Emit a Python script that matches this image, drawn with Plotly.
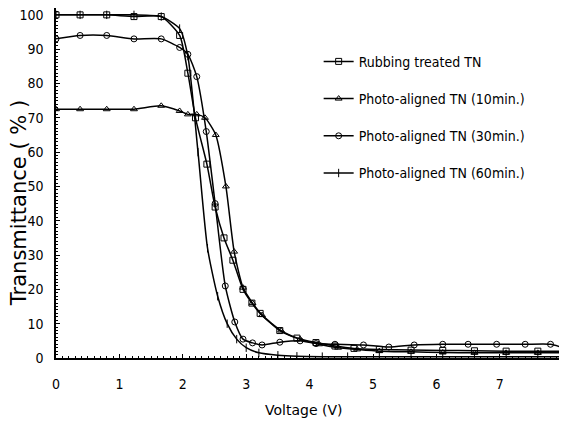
import plotly.graph_objects as go

# ---- data ----
rub_v = [0, 0.38, 0.8, 1.23, 1.66, 1.95, 2.08, 2.2, 2.38, 2.51, 2.65, 2.79, 2.95, 3.09, 3.22, 3.53, 3.8, 4.1, 4.4, 4.7, 5.1, 5.6, 6.1, 6.6, 7.1, 7.6, 8.0]
rub_t = [100, 100, 100, 99.5, 99.5, 94, 83, 70, 56.5, 44, 35, 28.5, 20, 16, 13, 8, 5.8, 4.5, 3.5, 2.8, 2.5, 2.3, 2.2, 2.1, 2.0, 2.0, 2.0]

p10_v = [0, 0.38, 0.8, 1.23, 1.66, 1.95, 2.08, 2.22, 2.35, 2.52, 2.68, 2.81, 2.95, 3.1, 3.25, 3.55, 3.85, 4.15, 4.45, 4.75, 5.1, 5.6, 6.1, 6.6, 7.1, 7.6, 8.0]
p10_t = [72.5, 72.5, 72.5, 72.5, 73.5, 72, 71, 71, 70, 65, 50, 31, 20.5, 16, 12.5, 8, 5.5, 4, 3, 2.5, 2, 1.8, 1.6, 1.5, 1.5, 1.5, 1.5]

p30_v = [0, 0.38, 0.8, 1.23, 1.66, 1.95, 2.08, 2.22, 2.37, 2.51, 2.67, 2.82, 2.95, 3.1, 3.25, 3.53, 3.85, 4.1, 4.4, 4.85, 5.25, 5.65, 6.1, 6.5, 6.95, 7.4, 7.8, 8.0]
p30_t = [93, 94, 94, 93, 93, 90.5, 88.5, 82, 66, 45, 21, 10.5, 5.5, 4.4, 3.8, 4.6, 5, 4.2, 4.0, 3.8, 3.2, 3.8, 4, 4, 4, 4, 4, 3]

p60_v = [0, 0.38, 0.8, 1.23, 1.66, 1.95, 2.08, 2.24, 2.39, 2.55, 2.7, 2.85, 3.0, 3.2, 3.5, 3.8, 4.2, 4.6, 5.1, 5.6, 6.1, 6.6, 7.1, 7.6, 8.0]
p60_t = [100, 100, 100, 100, 99.5, 96, 88, 60, 32, 18, 10, 5.5, 3, 1.5, 0.8, 0.5, 0.4, 0.4, 0.4, 0.4, 0.4, 0.4, 0.4, 0.4, 0.4]

names = ["Rubbing treated TN", "Photo-aligned TN (10min.)", "Photo-aligned TN (30min.)", "Photo-aligned TN (60min.)"]
series = [(rub_v, rub_t), (p10_v, p10_t), (p30_v, p30_t), (p60_v, p60_t)]
symbols = ["square-open", "triangle-up-open", "circle-open", "line-ns-open"]

x_ticks = [0, 1, 2, 3, 4, 5, 6, 7, 8]
y_ticks = [0, 10, 20, 30, 40, 50, 60, 70, 80, 90, 100]

narrow = "DejaVu Sans Condensed, Liberation Sans Narrow, sans-serif"

fig = go.Figure()
for i, ((vx, ty), nm, sym) in enumerate(zip(series, names, symbols)):
    fig.add_trace(go.Scatter(
        x=vx, y=ty, name=nm, mode="lines+markers",
        line=dict(color="black", width=1.5, shape="spline", smoothing=0.6),
        marker=dict(symbol=sym, size=6, color="black", line=dict(color="black", width=1)),
        legendgroup=str(i),
    ))

# page body has an 8px margin, so the figure is sized to fit the visible window
fig.update_layout(
    width=559, height=420,
    margin=dict(l=48, r=0, t=0, b=70),
    paper_bgcolor="white", plot_bgcolor="white",
    showlegend=True,
    legend=dict(x=0.514, y=0.892, xanchor="left", yanchor="top",
                bgcolor="rgba(0,0,0,0)", tracegroupgap=16,
                font=dict(family=narrow, size=14, color="black"),
                itemwidth=30),
    font=dict(family=narrow, color="black"),
)
fig.update_xaxes(
    range=[0, 8.06], tickvals=x_ticks, ticktext=[str(v) for v in x_ticks],
    showline=True, linecolor="black", linewidth=1.5, showgrid=False, zeroline=False,
    ticks="inside", ticklen=4, tickcolor="black", automargin=False,
    ticklabeloverflow="allow",
    minor=dict(dtick=0.1, ticks="inside", ticklen=2, tickcolor="black"),
    tickfont=dict(family=narrow, size=14, color="black"), ticklabelstandoff=12,
)
fig.update_yaxes(
    range=[0, 102], tickvals=y_ticks, ticktext=[str(v) for v in y_ticks],
    showline=True, linecolor="black", linewidth=1.5, showgrid=False, zeroline=False,
    ticks="inside", ticklen=4, tickcolor="black", automargin=False,
    ticklabeloverflow="allow",
    minor=dict(dtick=1, ticks="inside", ticklen=2, tickcolor="black"),
    tickfont=dict(family=narrow, size=14, color="black"), ticklabelstandoff=8,
)
fig.add_annotation(text="Transmittance ( % )", xref="paper", yref="paper",
                   x=-0.072, y=0.443, textangle=-90, showarrow=False,
                   xanchor="center", yanchor="middle",
                   font=dict(family="DejaVu Sans, sans-serif", size=21, color="black"))
fig.add_annotation(text="Voltage (V)", xref="paper", yref="paper",
                   x=0.485, y=-0.149, showarrow=False,
                   xanchor="center", yanchor="middle",
                   font=dict(family="DejaVu Sans, sans-serif", size=14, color="black"))

fig.write_html("out.html")
